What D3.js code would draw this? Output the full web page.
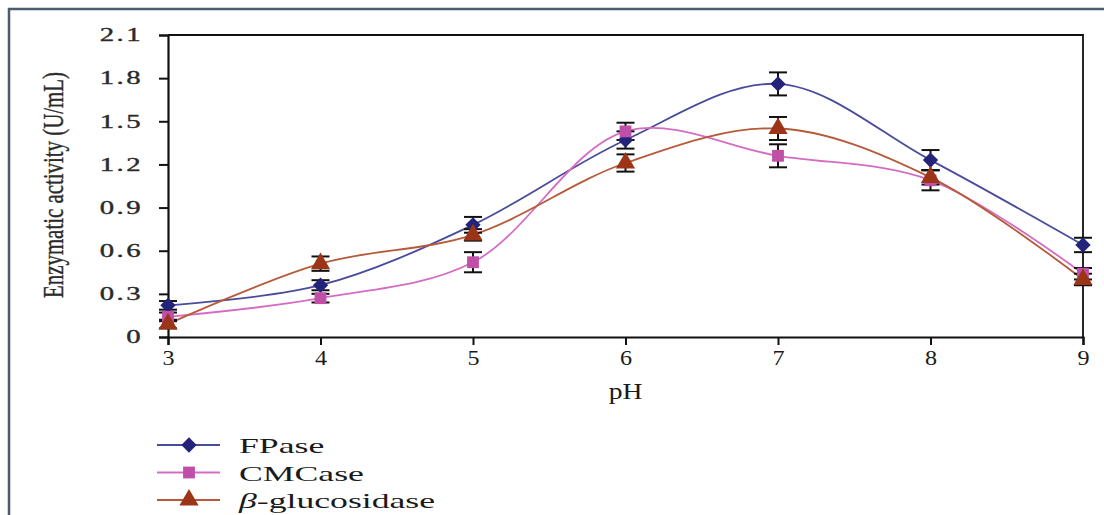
<!DOCTYPE html>
<html>
<head>
<meta charset="utf-8">
<script src="https://cdn.jsdelivr.net/npm/d3@7"></script>
<style>
  body { margin: 0; background: #fff; }
  svg { display: block; font-family: "Liberation Serif", "DejaVu Serif", serif; }
</style>
</head>
<body>
<svg id="chart" width="1104" height="515"></svg>
<script>
// pH values and enzyme activities (U/mL)
const phValues = [3, 4, 5, 6, 7, 8, 9]
const fpase = [0.22, 0.36, 0.78, 1.37, 1.76, 1.23, 0.64]
const fpaseErr = [0.03, 0.035, 0.055, 0.06, 0.08, 0.07, 0.05]
const cmcase = [0.14, 0.27, 0.52, 1.43, 1.26, 1.09, 0.44]
const cmcaseErr = [0.03, 0.03, 0.07, 0.06, 0.08, 0.07, 0.04]
const bgluc = [0.09, 0.51, 0.71, 1.21, 1.45, 1.11, 0.40]
const bglucErr = [0.03, 0.05, 0.04, 0.06, 0.08, 0.05, 0.04]
const yTicks = [0, 0.3, 0.6, 0.9, 1.2, 1.5, 1.8, 2.1]

const series = [
  {name: 'FPase', values: fpase, err: fpaseErr, line: '#4b4b9c', mark: '#23237a', shape: d3.symbolDiamond2, size: 150},
  {name: 'CMCase', values: cmcase, err: cmcaseErr, line: '#d46cc4', mark: '#c04fa8', shape: d3.symbolSquare, size: 140},
  {name: 'β-glucosidase', values: bgluc, err: bglucErr, line: '#b65a3a', mark: '#9c3418', shape: d3.symbolTriangle, size: 160}
]

const svg = d3.select('#chart')
const margin = {top: 35, right: 21, bottom: 178, left: 168}
const width = 1104 - margin.left - margin.right
const height = 515 - margin.top - margin.bottom

// outer frame (left and top edges)
svg.append('path')
  .attr('d', 'M9,515 V9 H1104')
  .attr('fill', 'none')
  .attr('stroke', '#4b5b70')
  .attr('stroke-width', 2.5)

const chart = svg.append('g')
  .attr('transform', `translate(${margin.left},${margin.top})`)

const xScale = d3.scaleLinear().domain([3, 9]).range([0, width])
const yScale = d3.scaleLinear().domain([0, 2.1]).range([height, 0])

// top and right box edges
chart.append('path')
  .attr('d', `M0,0 H${width} V${height}`)
  .attr('fill', 'none')
  .attr('stroke', '#111')
  .attr('stroke-width', 1.8)

const xAxis = d3.axisBottom(xScale).tickValues(phValues).tickSize(8).tickFormat(d3.format('d'))
const yAxis = d3.axisLeft(yScale).tickValues(yTicks).tickSize(9).tickFormat(d => d === 0 ? '0' : d3.format('.1f')(d))

const xAxisG = chart.append('g')
  .attr('transform', `translate(0,${height})`)
  .call(xAxis)
xAxisG.select('.domain').attr('stroke', '#111').attr('stroke-width', 2.2)
xAxisG.selectAll('.tick line').attr('stroke', '#111').attr('stroke-width', 2)
xAxisG.selectAll('.tick text')
  .attr('font-family', '"Liberation Serif", serif')
  .attr('font-size', 21)
  .attr('fill', '#1a1a1a')
  .attr('y', 13)
  .attr('transform', 'scale(1.15,1)')

const yAxisG = chart.append('g').call(yAxis)
yAxisG.select('.domain').attr('stroke', '#111').attr('stroke-width', 2.2)
yAxisG.selectAll('.tick line').attr('stroke', '#111').attr('stroke-width', 2)
yAxisG.selectAll('.tick text')
  .attr('font-family', '"Liberation Serif", serif')
  .attr('font-size', 18)
  .attr('letter-spacing', 1.5)
  .attr('fill', '#2a2a2a')
  .attr('stroke', '#2a2a2a')
  .attr('stroke-width', 0.35)
  .attr('x', 0)
  .attr('text-anchor', 'end')
  .attr('transform', 'translate(-25,0) scale(1.6,1)')

// axis titles
chart.append('text')
  .attr('x', width / 2)
  .attr('y', height + 62)
  .attr('text-anchor', 'middle')
  .attr('font-size', 23)
  .attr('fill', '#1a1a1a')
  .attr('transform', `translate(${width / 2},0) scale(1.2,1) translate(${-width / 2},0)`)
  .text('pH')

chart.append('text')
  .attr('transform', `translate(${63 - margin.left},${185 - margin.top}) rotate(-90) scale(1,1.6)`)
  .attr('text-anchor', 'middle')
  .attr('font-size', 19)
  .attr('fill', '#2a2a2a')
  .attr('stroke', '#2a2a2a')
  .attr('stroke-width', 0.25)
  .attr('textLength', 226)
  .attr('lengthAdjust', 'spacingAndGlyphs')
  .text('Enzymatic activity (U/mL)')

const line = d3.line()
  .x((d, i) => xScale(phValues[i]))
  .y(d => yScale(d))
  .curve(d3.curveCatmullRom.alpha(0.5))

series.forEach(s => {
  chart.append('path')
    .datum(s.values)
    .attr('fill', 'none')
    .attr('stroke', s.line)
    .attr('stroke-width', 1.8)
    .attr('d', line)
})

// error bars
series.forEach(s => {
  const g = chart.append('g').attr('stroke', '#111').attr('stroke-width', 2)
  s.values.forEach((v, i) => {
    const x = xScale(phValues[i])
    const y0 = yScale(v - s.err[i])
    const y1 = yScale(v + s.err[i])
    g.append('line').attr('x1', x).attr('x2', x).attr('y1', y0).attr('y2', y1)
    g.append('line').attr('x1', x - 9).attr('x2', x + 9).attr('y1', y0).attr('y2', y0)
    g.append('line').attr('x1', x - 9).attr('x2', x + 9).attr('y1', y1).attr('y2', y1)
  })
})

// markers
series.forEach(s => {
  chart.selectAll(null)
    .data(s.values)
    .join('path')
      .attr('transform', (d, i) => `translate(${xScale(phValues[i])},${yScale(d)})`)
      .attr('d', d3.symbol().type(s.shape).size(s.size))
      .attr('fill', s.mark)
})

// legend
const legend = svg.append('g').attr('transform', 'translate(157,445)')
series.forEach((s, i) => {
  const row = legend.append('g').attr('transform', `translate(0,${i * 27.5})`)
  row.append('line')
    .attr('x1', 0).attr('x2', 63)
    .attr('stroke', s.line).attr('stroke-width', 1.8)
  row.append('path')
    .attr('transform', 'translate(32,0)')
    .attr('d', d3.symbol().type(s.shape).size(s.size))
    .attr('fill', s.mark)
  const t = row.append('text')
    .attr('transform', 'translate(82,8) scale(1.7,1)')
    .attr('font-size', 21)
    .attr('fill', '#1a1a1a')
  if (s.name.startsWith('β')) {
    t.append('tspan').attr('font-style', 'italic').text('β')
    t.append('tspan').text(s.name.slice(1))
  } else {
    t.text(s.name)
  }
})
</script>
</body>
</html>
